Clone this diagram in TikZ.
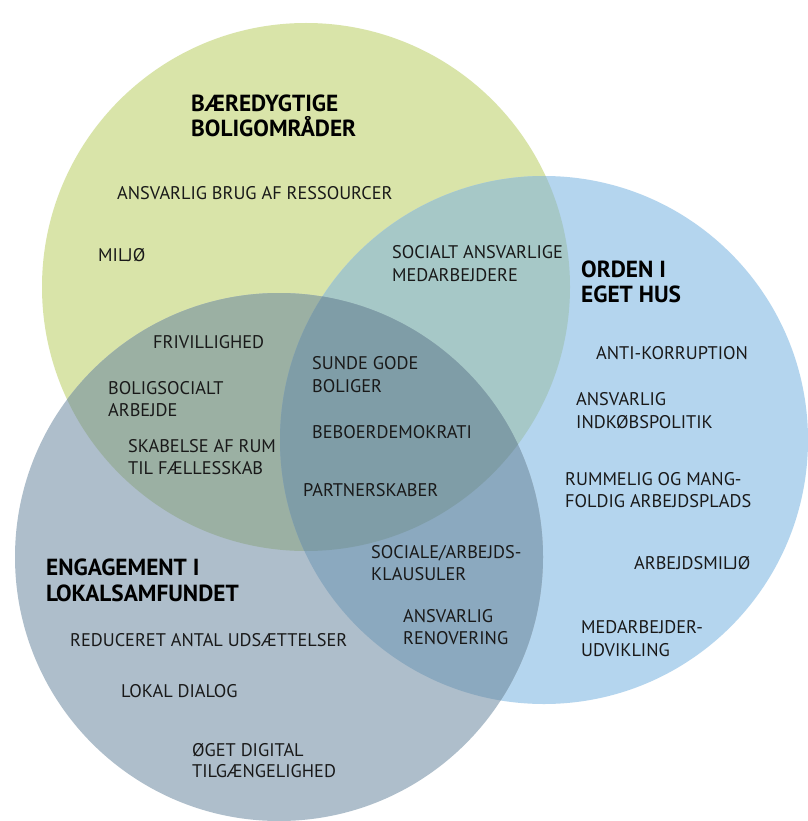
\documentclass[tikz,border=0pt]{standalone}
\usepackage{fontspec}
\setmainfont{PT Sans}
\definecolor{cgreen}{RGB}{217,228,169}
\definecolor{cblue}{RGB}{180,213,238}
\definecolor{cgray}{RGB}{174,190,203}
\definecolor{cgb}{RGB}{166,200,199}
\definecolor{cgg}{RGB}{155,176,163}
\definecolor{cbg}{RGB}{139,169,191}
\definecolor{call}{RGB}{127,157,167}
\definecolor{ctext}{RGB}{25,25,25}
\begin{document}
\begin{tikzpicture}[x=1pt,y=-1pt,
  lbl/.style={anchor=base west,inner sep=0pt,text=ctext,font=\fontsize{18.3}{21}\selectfont},
  ttl/.style={anchor=base west,inner sep=0pt,text=black,font=\fontsize{23.3}{26}\selectfont\bfseries}]
\useasboundingbox (0,0) rectangle (807,821);
\fill[white] (0,0) rectangle (807,821);
\coordinate (G) at (306,287);
\coordinate (B) at (544,440);
\coordinate (D) at (279,557);
\def\rr{264pt}
% base circles
\fill[cgreen] (G) circle[radius=\rr];
\fill[cblue] (B) circle[radius=\rr];
\fill[cgray] (D) circle[radius=\rr];
% pairwise overlaps
\begin{scope}
  \clip (G) circle[radius=\rr];
  \fill[cgb] (B) circle[radius=\rr];
  \fill[cgg] (D) circle[radius=\rr];
\end{scope}
\begin{scope}
  \clip (B) circle[radius=\rr];
  \fill[cbg] (D) circle[radius=\rr];
\end{scope}
\begin{scope}
  \clip (G) circle[radius=\rr];
  \clip (B) circle[radius=\rr];
  \fill[call] (D) circle[radius=\rr];
\end{scope}
% titles
\node[ttl] (t1a) at (191,112) {BÆREDYGTIGE};
\node[ttl] (t1b) at (191,137) {BOLIGOMRÅDER};
\node[ttl] (t2a) at (581,277) {ORDEN I};
\node[ttl] (t2b) at (581,302) {EGET HUS};
\node[ttl] (t3a) at (46,575) {ENGAGEMENT I};
\node[ttl] (t3b) at (46,601) {LOKALSAMFUNDET};
% labels
\node[lbl] (a1) at (117,199) {ANSVARLIG BRUG AF RESSOURCER};
\node[lbl] (a2) at (98,261) {MILJØ};
\node[lbl] (a3a) at (392,258) {SOCIALT ANSVARLIGE};
\node[lbl] (a3b) at (392,281) {MEDARBEJDERE};
\node[lbl] (a4) at (153,348) {FRIVILLIGHED};
\node[lbl] (a5a) at (312,369) {SUNDE GODE};
\node[lbl] (a5b) at (312,392) {BOLIGER};
\node[lbl] (a6a) at (108,394) {BOLIGSOCIALT};
\node[lbl] (a6b) at (108,416) {ARBEJDE};
\node[lbl] (a7) at (596,359) {ANTI-KORRUPTION};
\node[lbl] (a8a) at (576,405) {ANSVARLIG};
\node[lbl] (a8b) at (576,428) {INDKØBSPOLITIK};
\node[lbl] (a9) at (312,438) {BEBOERDEMOKRATI};
\node[lbl] (a10a) at (128,452) {SKABELSE AF RUM};
\node[lbl] (a10b) at (128,474) {TIL FÆLLESSKAB};
\node[lbl] (a11) at (303,496) {PARTNERSKABER};
\node[lbl] (a12a) at (565,485) {RUMMELIG OG MANG-};
\node[lbl] (a12b) at (565,507) {FOLDIG ARBEJDSPLADS};
\node[lbl] (a13a) at (371,558) {SOCIALE/ARBEJDS-};
\node[lbl] (a13b) at (371,580) {KLAUSULER};
\node[lbl] (a14) at (634,569) {ARBEJDSMILJØ};
\node[lbl] (a15a) at (403,622) {ANSVARLIG};
\node[lbl] (a15b) at (403,644) {RENOVERING};
\node[lbl] (a16a) at (581,633) {MEDARBEJDER-};
\node[lbl] (a16b) at (581,656) {UDVIKLING};
\node[lbl] (a17) at (70,646) {REDUCERET ANTAL UDSÆTTELSER};
\node[lbl] (a18) at (121,697) {LOKAL DIALOG};
\node[lbl] (a19a) at (192,756) {ØGET DIGITAL};
\node[lbl] (a19b) at (192,777) {TILGÆNGELIGHED};
\end{tikzpicture}
\end{document}
